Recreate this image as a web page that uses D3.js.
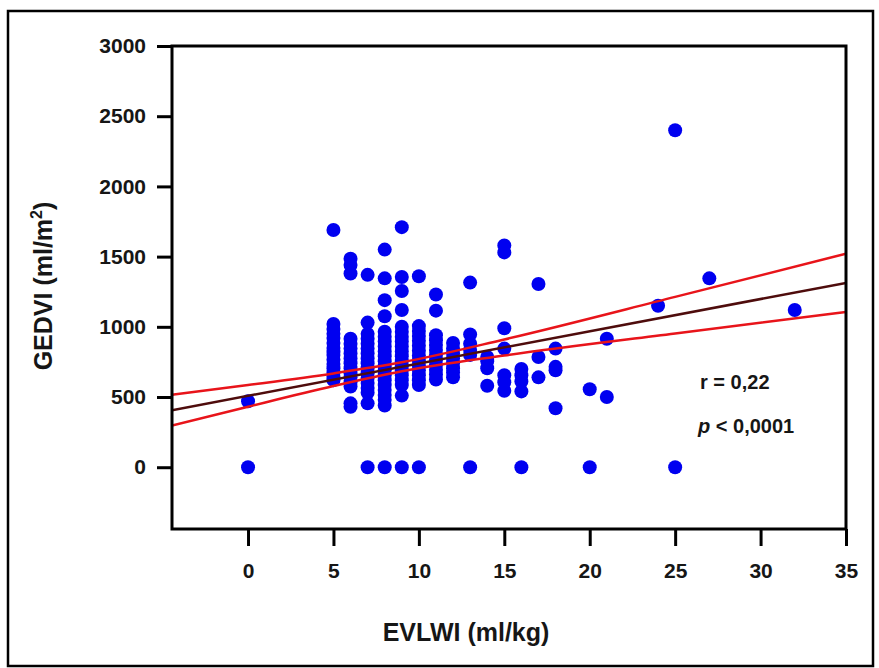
<!DOCTYPE html>
<html>
<head>
<meta charset="utf-8">
<script src="https://cdn.jsdelivr.net/npm/d3@7"></script>
<style>
  body { margin: 0; background: #fff; }
  text { font-family: "Liberation Sans", Arial, sans-serif; font-weight: bold; }
</style>
</head>
<body>
<div id="chart"></div>
<script>
// EVLWI columns (ml/kg) and the GEDVI values seen in each column (ml/m2)
const evlwiCols = [0, 5, 6, 7, 8, 9, 10, 11, 12, 13, 14, 15, 16, 17, 18, 20, 21, 24, 25, 27, 32]
const gedviCols = [
  [470, 0],
  [1690, 1020, 985, 950, 920, 885, 850, 820, 800, 765, 735, 705, 675, 645, 620],
  [1485, 1440, 1380, 915, 880, 845, 810, 775, 740, 705, 670, 640, 605, 575, 455, 430],
  [1370, 1030, 950, 915, 880, 845, 810, 775, 740, 705, 670, 635, 600, 565, 530, 455, 0],
  [1550, 1345, 1190, 1075, 965, 930, 895, 860, 825, 790, 755, 720, 690, 655, 620, 585, 550, 515, 480, 440, 0],
  [1710, 1355, 1255, 1120, 1000, 965, 930, 895, 860, 825, 790, 755, 720, 690, 655, 620, 585, 510, 0],
  [1360, 1005, 970, 935, 900, 865, 830, 795, 760, 725, 690, 655, 620, 585, 0],
  [1230, 1115, 940, 905, 870, 835, 800, 765, 730, 695, 660, 625],
  [885, 845, 810, 775, 740, 705, 675, 640],
  [1315, 945, 880, 835, 800, 0],
  [785, 755, 705, 580],
  [1580, 1530, 990, 845, 655, 605, 545],
  [700, 655, 610, 540, 0],
  [1305, 785, 640],
  [845, 715, 690, 420],
  [555, 0],
  [915, 500],
  [1150],
  [2400, 0],
  [1345],
  [1120]
]

// regression line and its confidence band
const fitX = [-4.45, 35]
const fitY = [406, 1313]
const bandX = [-4.45, 0, 5, 9, 15, 25, 35]
const bandUpper = [516, 585, 668, 747, 910, 1213, 1521]
const bandLower = [296, 431, 578, 683, 796, 953, 1105]

const xTicks = [0, 5, 10, 15, 20, 25, 30, 35]
const yTicks = [0, 500, 1000, 1500, 2000, 2500, 3000]

const width = 879, height = 668
const plot = { left: 172, right: 846, top: 46, bottom: 529 }
const ink = "#161616"

const svg = d3.select("#chart").append("svg")
    .attr("width", width)
    .attr("height", height)

// outer frame
svg.append("rect")
    .attr("x", 8).attr("y", 11)
    .attr("width", 865).attr("height", 655)
    .attr("fill", "none")
    .attr("stroke", "#000")
    .attr("stroke-width", 2.5)

const x = d3.scaleLinear().domain([-4.45, 35]).range([plot.left, plot.right])
const y = d3.scaleLinear().domain([-440, 3000]).range([plot.bottom, plot.top])

svg.append("clipPath").attr("id", "clip")
    .append("rect")
    .attr("x", plot.left).attr("y", plot.top)
    .attr("width", plot.right - plot.left).attr("height", plot.bottom - plot.top)

// points
const points = evlwiCols.flatMap((v, i) => gedviCols[i].map(g => ({ x: v, y: g })))

svg.append("g")
    .selectAll("circle")
    .data(points)
    .join("circle")
    .attr("cx", d => x(d.x))
    .attr("cy", d => y(d.y))
    .attr("r", 7)
    .attr("fill", "#0000f0")

// lines on top of dots
const lines = svg.append("g").attr("clip-path", "url(#clip)")

const band = d3.line().curve(d3.curveMonotoneX).x(d => x(d[0])).y(d => y(d[1]))

lines.append("path")
    .attr("d", band(bandX.map((v, i) => [v, bandUpper[i]])))
    .attr("fill", "none").attr("stroke", "#e8141a").attr("stroke-width", 2.5)

lines.append("path")
    .attr("d", band(bandX.map((v, i) => [v, bandLower[i]])))
    .attr("fill", "none").attr("stroke", "#e8141a").attr("stroke-width", 2.5)

lines.append("path")
    .attr("d", d3.line().x(d => x(d[0])).y(d => y(d[1]))(fitX.map((v, i) => [v, fitY[i]])))
    .attr("fill", "none").attr("stroke", "#4e0c0c").attr("stroke-width", 2.5)

// plot box
svg.append("rect")
    .attr("x", plot.left).attr("y", plot.top)
    .attr("width", plot.right - plot.left).attr("height", plot.bottom - plot.top)
    .attr("fill", "none")
    .attr("stroke", "#000")
    .attr("stroke-width", 3)

// axes
const yAxis = svg.append("g")
    .attr("transform", `translate(${plot.left},0)`)
    .call(d3.axisLeft(y).tickValues(yTicks).tickFormat(d3.format("d"))
        .tickSize(15).tickPadding(11).tickSizeOuter(0))
yAxis.select(".domain").remove()
yAxis.selectAll("line").attr("stroke", "#000").attr("stroke-width", 3)
yAxis.selectAll("text").attr("font-size", 21).attr("fill", ink)
    .attr("font-family", "Liberation Sans, Arial, sans-serif")

const xAxis = svg.append("g")
    .attr("transform", `translate(0,${plot.bottom})`)
    .call(d3.axisBottom(x).tickValues(xTicks).tickFormat(d3.format("d"))
        .tickSize(17).tickPadding(17).tickSizeOuter(0))
xAxis.select(".domain").remove()
xAxis.selectAll("line").attr("stroke", "#000").attr("stroke-width", 3)
xAxis.selectAll("text").attr("font-size", 21).attr("fill", ink)
    .attr("font-family", "Liberation Sans, Arial, sans-serif")

// axis titles
svg.append("text")
    .attr("x", 466).attr("y", 641)
    .attr("text-anchor", "middle")
    .attr("font-size", 25)
    .attr("fill", ink)
    .text("EVLWI (ml/kg)")

const yt = svg.append("text")
    .attr("transform", "translate(52,286) rotate(-90)")
    .attr("text-anchor", "middle")
    .attr("font-size", 25)
    .attr("fill", ink)
yt.append("tspan").text("GEDVI (ml/m")
yt.append("tspan").attr("dy", -10).attr("font-size", 16).text("2")
yt.append("tspan").attr("dy", 10).text(")")

// statistics
svg.append("text")
    .attr("x", 700).attr("y", 389)
    .attr("font-size", 20)
    .attr("fill", ink)
    .text("r = 0,22")

const pt = svg.append("text")
    .attr("x", 698).attr("y", 433)
    .attr("font-size", 20)
    .attr("fill", ink)
pt.append("tspan").attr("font-style", "italic").text("p")
pt.append("tspan").text(" < 0,0001")
</script>
</body>
</html>
